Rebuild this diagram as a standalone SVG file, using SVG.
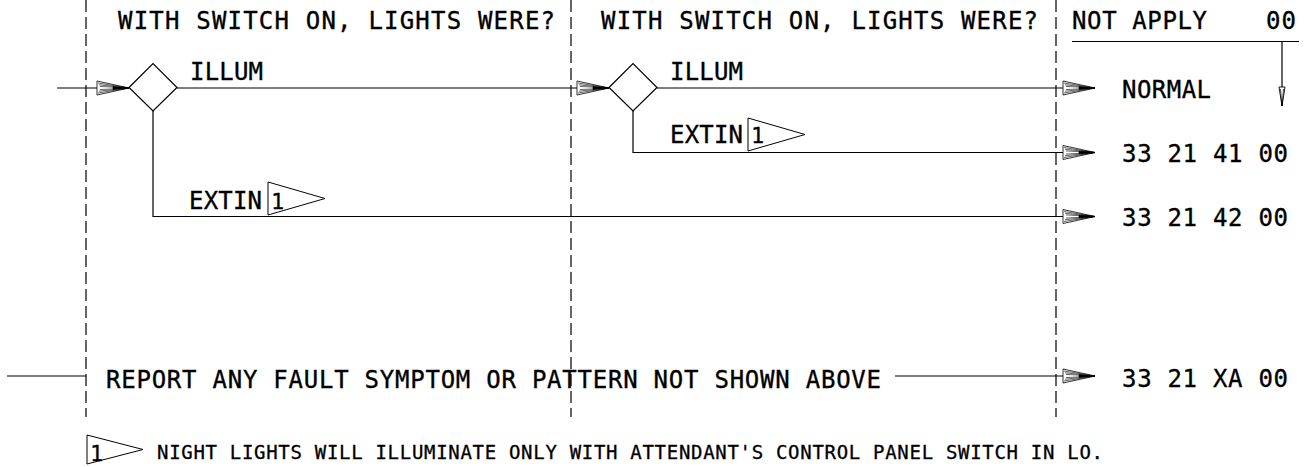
<svg xmlns="http://www.w3.org/2000/svg" xmlns:xlink="http://www.w3.org/1999/xlink" width="1305" height="467" viewBox="0 0 1305 467">
<style>
.t{font-family:"DejaVu Sans Mono","Liberation Mono",monospace;font-size:24px;fill:#000;stroke:#000;stroke-width:0.35}
.s{font-family:"DejaVu Sans Mono","Liberation Mono",monospace;font-size:19px;fill:#000;stroke:#000;stroke-width:0.3}
.f{font-family:"DejaVu Sans Mono","Liberation Mono",monospace;font-size:22px;fill:#000;stroke:#000;stroke-width:0.3}
.ln{fill:none;stroke:#000;stroke-width:1.2}
.dash{fill:none;stroke:#000;stroke-width:1.2;stroke-dasharray:12 5}
.shape{fill:#fff;stroke:#000;stroke-width:1.2}
.flag{fill:none;stroke:#000;stroke-width:1}
</style>
<defs>
<g id="ah">
<polygon points="-32,-7 0,0 -32,7" fill="#fff" stroke="#000" stroke-width="0.8"/>
<polyline points="-31,-5 0,0 -31,5" fill="none" stroke="#000" stroke-width="0.6"/>
<polyline points="-30,-3.2 0,0 -30,3.2" fill="none" stroke="#000" stroke-width="0.6"/>
<polyline points="-29,-1.6 0,0 -29,1.6" fill="none" stroke="#000" stroke-width="0.6"/>
<polygon points="-16,-1.4 0,0 -16,1.4" fill="#000" stroke="#000" stroke-width="0.6"/>
</g>
</defs>
<rect width="1305" height="467" fill="#fff"/>
<g id="columns">
<line class="dash" x1="86" y1="0" x2="86" y2="417"/>
<line class="dash" x1="571" y1="0" x2="571" y2="417"/>
<line class="dash" x1="1056" y1="0" x2="1056" y2="417"/>
</g>
<g id="headers">
<text class="t" x="118" y="29" textLength="437" lengthAdjust="spacing">WITH SWITCH ON, LIGHTS WERE?</text>
<text class="t" x="601" y="29" textLength="437" lengthAdjust="spacing">WITH SWITCH ON, LIGHTS WERE?</text>
<text class="t" x="1072" y="29" textLength="135" lengthAdjust="spacing">NOT APPLY</text>
<text class="t" x="1266" y="29" textLength="30" lengthAdjust="spacing">00</text>
</g>
<g id="connectors">
<path class="ln" d="M57 88H129"/>
<path class="ln" d="M177 88H609"/>
<path class="ln" d="M657 88H1095"/>
<path class="ln" d="M633 111V152.5H1095"/>
<path class="ln" d="M153 111V216.5H1095"/>
<path class="ln" d="M7 376H86"/>
<path class="ln" d="M895 376H1095"/>
<path class="ln" d="M1072 41.5H1299"/>
<path class="ln" d="M1282 41.5V106"/>
<polygon points="1279,87 1282,106 1285,87" fill="#fff" stroke="#000" stroke-width="0.9"/>
<polyline points="1280.5,89 1282,106 1283.5,89" fill="none" stroke="#000" stroke-width="0.7"/>
<use xlink:href="#ah" transform="translate(129,88)"/>
<use xlink:href="#ah" transform="translate(609,88)"/>
<use xlink:href="#ah" transform="translate(1095,88)"/>
<use xlink:href="#ah" transform="translate(1095,152.5)"/>
<use xlink:href="#ah" transform="translate(1095,216.5)"/>
<use xlink:href="#ah" transform="translate(1095,376)"/>
</g>
<g id="decision1">
<polygon class="shape" points="129,87.5 153,63.5 177,87.5 153,111"/>
<text class="t" x="190" y="80" textLength="73" lengthAdjust="spacing">ILLUM</text>
<text class="t" x="189" y="209" textLength="73" lengthAdjust="spacing">EXTIN</text>
<polygon class="flag" points="268,182 325,198.5 268,215"/>
<text class="f" x="271" y="209">1</text>
</g>
<g id="decision2">
<polygon class="shape" points="609,87.5 633,63.5 657,87.5 633,111"/>
<text class="t" x="670" y="80" textLength="73" lengthAdjust="spacing">ILLUM</text>
<text class="t" x="670" y="143" textLength="73" lengthAdjust="spacing">EXTIN</text>
<polygon class="flag" points="748,118 805,134.5 748,151"/>
<text class="f" x="751" y="143">1</text>
</g>
<g id="result-normal">
<text class="t" x="1122" y="98" textLength="89" lengthAdjust="spacing">NORMAL</text>
</g>
<g id="result-332141">
<text class="t" x="1122" y="161.5" textLength="166" lengthAdjust="spacing">33 21 41 00</text>
</g>
<g id="result-332142">
<text class="t" x="1122" y="226" textLength="166" lengthAdjust="spacing">33 21 42 00</text>
</g>
<g id="report">
<text class="t" x="106" y="388" textLength="775" lengthAdjust="spacing">REPORT ANY FAULT SYMPTOM OR PATTERN NOT SHOWN ABOVE</text>
</g>
<g id="result-3321XA">
<text class="t" x="1122" y="386.5" textLength="166" lengthAdjust="spacing">33 21 XA 00</text>
</g>
<g id="footnote">
<polygon class="flag" points="87,435 143,449.5 87,464"/>
<text class="f" x="90" y="461">1</text>
<text class="s" x="157" y="459" textLength="946" lengthAdjust="spacing">NIGHT LIGHTS WILL ILLUMINATE ONLY WITH ATTENDANT'S CONTROL PANEL SWITCH IN LO.</text>
</g>
</svg>
